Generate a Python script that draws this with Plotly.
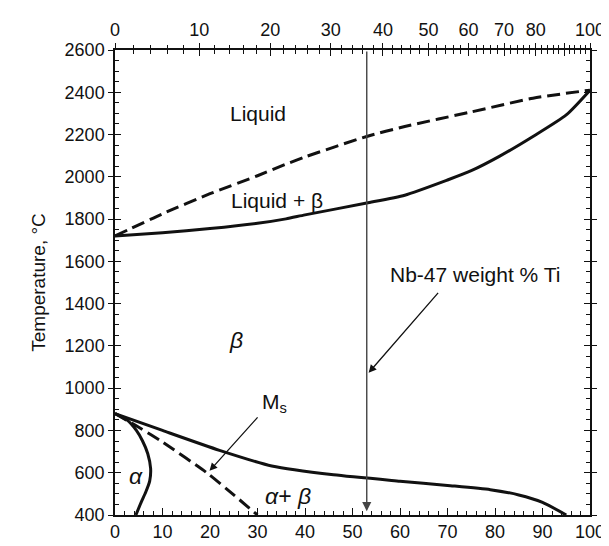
import plotly.graph_objects as go

# ---- data (weight % Nb on x, temperature in °C on y) ----
liquidus_x = [0, 10, 20, 30, 36, 40, 53, 61, 75, 88, 100]
liquidus_y = [1720, 1825, 1920, 2005, 2060, 2094, 2191, 2238, 2307, 2372, 2410]

solidus_x = [0, 10, 20, 30, 36, 40, 53, 61, 70, 75, 81, 88, 95, 100]
solidus_y = [1720, 1735, 1755, 1780, 1801, 1820, 1876, 1913, 1985, 2029, 2098, 2191, 2293, 2410]

transus_x = [0, 10, 22, 33, 46, 60, 70, 79, 85, 90, 95]
transus_y = [880, 800, 706, 632, 590, 560, 540, 520, 495, 460, 400]

ms_x = [0, 5, 10, 19.3, 25, 30]
ms_y = [880, 815, 745, 600, 495, 400]

alpha_x = [0, 2.5, 4.5, 5.8, 6.9, 7.5, 7.3, 6.5, 5.5, 4.4]
alpha_y = [880, 850, 800, 750, 690, 620, 560, 510, 460, 400]

alloy_wt = 53  # Nb-47 weight % Ti

top_at_major = [0, 10, 20, 30, 40, 50, 60, 70, 80, 90, 100]
top_at_labels = ["0", "10", "20", "30", "40", "50", "60", "70", "80", "", "100"]
top_at_minor = [a for a in range(0, 101, 2) if a % 10 != 0]

M_NB, M_TI = 92.906, 47.867


def at_to_wt(a):
    return 100.0 * a * M_NB / (a * M_NB + (100 - a) * M_TI)


top_major_pos = [at_to_wt(a) for a in top_at_major]
top_minor_pos = [at_to_wt(a) for a in top_at_minor]

FONT = "Liberation Sans, Arial, Helvetica, sans-serif"
BLACK = "#111111"

fig = go.Figure()


def curve(xs, ys, dash="solid"):
    fig.add_trace(go.Scatter(x=xs, y=ys, mode="lines",
                             line=dict(color=BLACK, width=3, dash=dash, shape="spline", smoothing=0.6),
                             showlegend=False, hoverinfo="skip"))


curve(liquidus_x, liquidus_y, dash="13px,6px")
curve(solidus_x, solidus_y)
curve(transus_x, transus_y)
curve(ms_x, ms_y, dash="13px,6px")
curve(alpha_x, alpha_y)

# dummy traces to register overlay axes
fig.add_trace(go.Scatter(x=[], y=[], xaxis="x2", yaxis="y", showlegend=False))
fig.add_trace(go.Scatter(x=[], y=[], xaxis="x3", yaxis="y", showlegend=False))
fig.add_trace(go.Scatter(x=[], y=[], xaxis="x", yaxis="y2", showlegend=False))

tickfont = dict(family=FONT, size=18, color=BLACK)

fig.update_layout(
    width=609, height=546,
    margin=dict(l=107, r=19, t=39, b=33),
    paper_bgcolor="white", plot_bgcolor="white",
    font=dict(family=FONT, color=BLACK),
    xaxis=dict(range=[0, 100], showgrid=False, zeroline=False, showline=True, linecolor=BLACK,
               linewidth=1.5, ticks="inside", dtick=10, tick0=0, ticklen=7, tickwidth=1.2,
               tickcolor=BLACK, tickfont=tickfont,
               minor=dict(ticks="inside", dtick=2, ticklen=4, tickcolor=BLACK, tickwidth=1),
               mirror=False),
    xaxis2=dict(range=[0, 100], overlaying="x", side="top", anchor="y", showgrid=False,
                zeroline=False, showline=True, linecolor=BLACK, linewidth=1.5,
                tickmode="array", tickvals=top_major_pos, ticktext=top_at_labels,
                ticks="outside", ticklen=5, tickwidth=1.2, tickcolor=BLACK, tickfont=tickfont,
                minor=dict(ticks="outside", tickmode="array", tickvals=top_minor_pos,
                           ticklen=3, tickcolor=BLACK, tickwidth=1)),
    xaxis3=dict(range=[0, 100], overlaying="x", side="top", anchor="y", showgrid=False,
                zeroline=False, showline=False, showticklabels=False,
                tickmode="array", tickvals=top_major_pos,
                ticks="inside", ticklen=6, tickwidth=1.2, tickcolor=BLACK,
                minor=dict(ticks="inside", tickmode="array", tickvals=top_minor_pos,
                           ticklen=4, tickcolor=BLACK, tickwidth=1)),
    yaxis=dict(range=[400, 2600], showgrid=False, zeroline=False, showline=True, linecolor=BLACK,
               linewidth=1.5, ticks="outside", dtick=200, tick0=400, ticklen=5, tickwidth=1.2,
               tickcolor=BLACK, tickfont=tickfont, mirror="ticks",
               title=dict(text="Temperature, °C", font=dict(family=FONT, size=19, color=BLACK),
                          standoff=14)),
    yaxis2=dict(range=[400, 2600], overlaying="y", side="left", anchor="x", showgrid=False,
                zeroline=False, showline=True, linecolor=BLACK, linewidth=1.5, mirror="ticks",
                showticklabels=False, ticks="inside", dtick=200, tick0=400, ticklen=6,
                tickwidth=1.2, tickcolor=BLACK,
                minor=dict(ticks="inside", dtick=50, ticklen=4, tickcolor=BLACK, tickwidth=1)),
)

lab = dict(family=FONT, size=21, color=BLACK)
greek = dict(family=FONT, size=23, color=BLACK)

# alloy vertical line (arrow down to the bottom)
fig.add_annotation(x=alloy_wt, y=418, ax=alloy_wt, ay=2600, xref="x", yref="y", axref="x", ayref="y",
                   text="", showarrow=True, arrowhead=2, arrowsize=1.3, arrowwidth=1.4,
                   arrowcolor="#444444")

# text labels
fig.add_annotation(x=30, y=2298, text="Liquid", showarrow=False, font=lab)
fig.add_annotation(x=34, y=1890, text="Liquid + β", showarrow=False, font=lab)
fig.add_annotation(x=25.5, y=1226, text="<i>β</i>", showarrow=False, font=greek)
fig.add_annotation(x=4.4, y=586, text="<i>α</i>", showarrow=False, font=greek)
fig.add_annotation(x=36.5, y=490, text="<i>α</i>+ <i>β</i>", showarrow=False, font=greek)
fig.add_annotation(x=33.5, y=930, text="M<sub>s</sub>", showarrow=False, font=lab)
fig.add_annotation(x=75.8, y=1537, text="Nb-47 weight % Ti", showarrow=False, font=lab)

# pointer arrows
fig.add_annotation(x=19.9, y=609, ax=30.3, ay=869, xref="x", yref="y", axref="x", ayref="y",
                   text="", showarrow=True, arrowhead=2, arrowsize=1.2, arrowwidth=1.3, arrowcolor=BLACK)
fig.add_annotation(x=53.4, y=1073, ax=68.3, ay=1458, xref="x", yref="y", axref="x", ayref="y",
                   text="", showarrow=True, arrowhead=2, arrowsize=1.2, arrowwidth=1.3, arrowcolor=BLACK)

fig.write_html("out.html")
